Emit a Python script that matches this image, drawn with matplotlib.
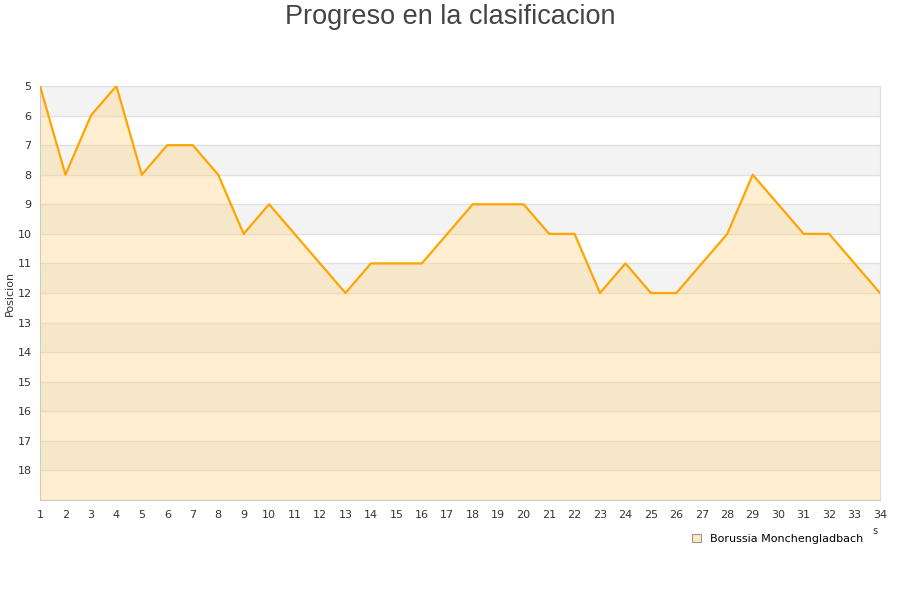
import matplotlib
matplotlib.use("Agg")
import matplotlib.pyplot as plt
import numpy as np

# Progreso jornada a jornada
jornadas = list(range(1, 35))
posicion = [5, 8, 6, 5, 8, 7, 7, 8, 10, 9, 10, 11, 12, 11, 11, 11, 10, 9, 9, 9,
            10, 10, 12, 11, 12, 12, 11, 10, 8, 9, 10, 10, 11, 12]
equipo = "Borussia Monchengladbach"
y_ticks = list(range(5, 19))

fig = plt.figure(figsize=(9, 6), dpi=100)
ax = fig.add_axes([40 / 900, 1 - 500 / 600, 840 / 900, 414 / 600])

ymin, ymax = 5, 19
# bandas alternas
for y in range(ymin, ymax, 2):
    ax.axhspan(y, y + 1, color="#f3f3f3", zorder=0, lw=0)
for y in range(ymin, ymax + 1):
    ax.axhline(y, color="#e0e0e0", lw=1, zorder=1)

ax.fill_between(jornadas, posicion, ymax, color="#ffd58a", alpha=0.4, lw=0, zorder=2)
ax.plot(jornadas, posicion, color="#ffa500", lw=1.6, zorder=3)

ax.set_xlim(1, 34)
ax.set_ylim(ymax, ymin)
ax.set_xticks(jornadas)
ax.set_yticks(y_ticks)
ax.tick_params(axis="both", length=0, labelsize=8, colors="#333333")
ax.tick_params(axis="x", pad=7)
ax.tick_params(axis="y", pad=6)
for s in ["top"]:
    ax.spines[s].set_visible(False)
for s in ["left", "bottom"]:
    ax.spines[s].set_color("#cccccc")
ax.spines["right"].set_color("#dddddd")

ax.set_ylabel("Posicion", fontsize=8, color="#333333")
ax.yaxis.set_label_coords(-0.030, 0.50)

fig.text(0.5, 1 - 17 / 600, "Progreso en la clasificacion", ha="center", va="center",
         fontsize=19.5, color="#444444", family="Liberation Sans")

fig.text(875 / 900, 1 - 531 / 600, "s", ha="center", va="center", fontsize=7, color="#333333")

handle = plt.Rectangle((0, 0), 1, 1, facecolor="#ffe9c0", edgecolor="#999999", lw=0.8)
fig.legend([handle], [equipo], loc="center", bbox_to_anchor=(778 / 900, 1 - 539 / 600),
           frameon=False, fontsize=8, handlelength=0.8, handleheight=0.8, handletextpad=0.8)

fig.savefig("out.png", dpi=100)
